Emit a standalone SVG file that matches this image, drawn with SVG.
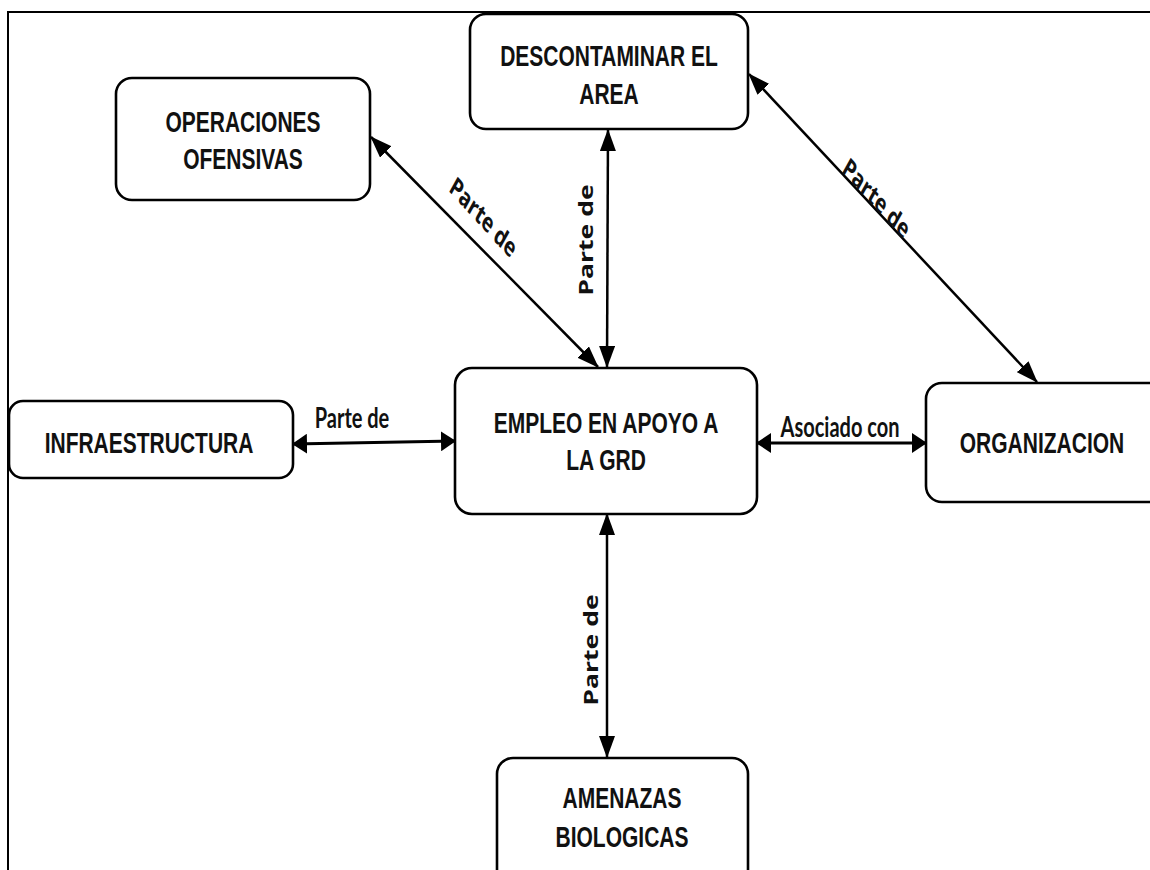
<svg xmlns="http://www.w3.org/2000/svg" width="1150" height="870" viewBox="0 0 1150 870">
<style>
.box{fill:#fff;stroke:#000;stroke-width:2.6}
.nt{font-family:"Liberation Sans",Arial,sans-serif;font-weight:bold;font-size:21px;fill:#111;text-anchor:middle}
.ln{fill:none;stroke:#000;stroke-width:2.5}
.lh{fill:none;stroke:#000;stroke-width:3}
.lv{font-family:"Open Sans",sans-serif;font-weight:700;font-size:19px;fill:#111;text-anchor:middle}
.ld{font-family:"Open Sans",sans-serif;font-weight:700;font-size:19px;fill:#111;text-anchor:middle}
.lhz{font-family:Lato,sans-serif;font-weight:700;font-size:20px;fill:#111;text-anchor:middle}
</style>
<defs>
<marker id="av" viewBox="0 0 22 16" refX="21" refY="8" markerWidth="22" markerHeight="16" markerUnits="userSpaceOnUse" orient="auto-start-reverse"><path d="M0,0 L22,8 L0,16 z" fill="#000"/></marker>
<marker id="ah" viewBox="0 0 15 20" refX="14" refY="10" markerWidth="15" markerHeight="20" markerUnits="userSpaceOnUse" orient="auto-start-reverse"><path d="M0,0 L15,10 L0,20 z" fill="#000"/></marker>
</defs>
<rect width="1150" height="870" fill="#fff"/>
<path d="M8,870 V12 H1150" fill="none" stroke="#000" stroke-width="2"/>

<g id="connectors">
<path class="ln" d="M371,137 L598,367" marker-start="url(#av)" marker-end="url(#av)"/>
<path class="ln" d="M608,130 L607,367" marker-start="url(#av)" marker-end="url(#av)"/>
<path class="ln" d="M749,74 L1037,382" marker-start="url(#av)" marker-end="url(#av)"/>
<path class="lh" d="M293,444 L455,441" marker-start="url(#ah)" marker-end="url(#ah)"/>
<path class="lh" d="M757,443 L926,443" marker-start="url(#ah)" marker-end="url(#ah)"/>
<path class="ln" d="M607,514 L607,757" marker-start="url(#av)" marker-end="url(#av)"/>
<text class="ld" transform="translate(483,218) scale(1,1.4) rotate(38)" y="6">Parte de</text>
<text class="lv" transform="translate(593,240) scale(1,1.4) rotate(-90)">Parte de</text>
<text class="ld" transform="translate(876,199) scale(1,1.4) rotate(38)" y="6">Parte de</text>
<text class="lhz" transform="translate(352,428) scale(1,1.4)">Parte de</text>
<text class="lhz" transform="translate(840,437) scale(1,1.4)">Asociado con</text>
<text class="lv" transform="translate(598,650) scale(1,1.4) rotate(-90)">Parte de</text>
</g>

<g id="n-operaciones">
<rect class="box" x="116" y="78" width="254" height="122" rx="16"/>
<text class="nt" transform="translate(243,132) scale(1,1.4)">OPERACIONES</text>
<text class="nt" transform="translate(243,169) scale(1,1.4)">OFENSIVAS</text>
</g>
<g id="n-descontaminar">
<rect class="box" x="470" y="14" width="278" height="115" rx="16"/>
<text class="nt" transform="translate(609,66) scale(1,1.4)">DESCONTAMINAR EL</text>
<text class="nt" transform="translate(609,104) scale(1,1.4)">AREA</text>
</g>
<g id="n-empleo">
<rect class="box" x="455" y="368" width="302" height="146" rx="17"/>
<text class="nt" transform="translate(606,433) scale(1,1.4)">EMPLEO EN APOYO A</text>
<text class="nt" transform="translate(606,470) scale(1,1.4)">LA GRD</text>
</g>
<g id="n-infraestructura">
<rect class="box" x="9" y="401" width="284" height="77" rx="14"/>
<text class="nt" transform="translate(149,453) scale(1,1.4)">INFRAESTRUCTURA</text>
</g>
<g id="n-organizacion">
<rect class="box" x="926" y="383" width="250" height="119" rx="16"/>
<text class="nt" transform="translate(1042,453) scale(1,1.4)">ORGANIZACION</text>
</g>
<g id="n-amenazas">
<rect class="box" x="497" y="758" width="251" height="140" rx="16"/>
<text class="nt" transform="translate(622,808) scale(1,1.4)">AMENAZAS</text>
<text class="nt" transform="translate(622,847) scale(1,1.4)">BIOLOGICAS</text>
</g>
</svg>
